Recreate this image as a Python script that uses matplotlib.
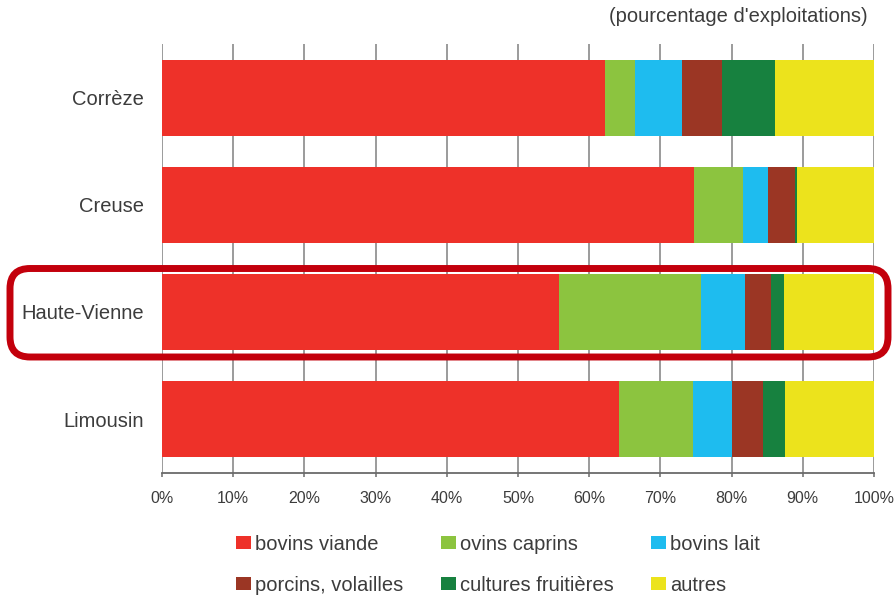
import matplotlib.pyplot as plt
from matplotlib.patches import FancyBboxPatch
from matplotlib.transforms import IdentityTransform

plt.rcParams['font.family'] = ['Liberation Sans', 'DejaVu Sans']

# part of farms by main activity, per département (%)
regions = ["Corrèze", "Creuse", "Haute-Vienne", "Limousin"]
bovins_viande = [62.2, 74.7, 55.8, 64.2]
ovins_caprins = [4.2, 6.9, 19.9, 10.4]
bovins_lait = [6.7, 3.5, 6.2, 5.4]
porcins_volailles = [5.5, 3.8, 3.7, 4.4]
cultures_fruitieres = [7.5, 0.3, 1.7, 3.1]
autres = [13.9, 10.8, 12.7, 12.5]

series = [
    ("bovins viande", bovins_viande, "#ee3129"),
    ("ovins caprins", ovins_caprins, "#8cc43f"),
    ("bovins lait", bovins_lait, "#1ebcef"),
    ("porcins, volailles", porcins_volailles, "#9b3624"),
    ("cultures fruitières", cultures_fruitieres, "#17813f"),
    ("autres", autres, "#ece31c"),
]

text_col = "#3c3c3c"

fig = plt.figure(figsize=(8.96, 5.97), dpi=100)
ax = fig.add_axes([0.1808, 0.2082, 0.7946, 0.7181])

ypos = list(range(len(regions)))
left = [0.0] * len(regions)
handles = []
for name, vals, col in series:
    b = ax.barh(ypos, vals, left=left, height=0.71, color=col, label=name, zorder=2)
    handles.append(b)
    left = [l + v for l, v in zip(left, vals)]

ax.set_xlim(0, 100)
ax.set_ylim(3.5, -0.5)
ax.set_xticks(range(0, 101, 10))
ax.set_xticklabels([f"{v}%" for v in range(0, 101, 10)])
ax.set_yticks(ypos)
ax.set_yticklabels(regions)
ax.xaxis.grid(True, color="#8a8a8a", linewidth=1.2, zorder=0)
ax.set_axisbelow(True)

for s in ["top", "right", "left"]:
    ax.spines[s].set_visible(False)
ax.spines["bottom"].set_color("#6a6a6a")
ax.spines["bottom"].set_linewidth(1.3)
ax.tick_params(axis="x", length=3, width=1.1, color="#6a6a6a", pad=10,
               labelsize=11.5, labelcolor=text_col)
ax.tick_params(axis="y", length=0, pad=13, labelsize=14.5, labelcolor=text_col)

fig.text(868 / 896, 1 - 16 / 597, "(pourcentage d'exploitations)", ha="right",
         va="center", fontsize=14.5, color=text_col)

# legend: row order across three columns
order = [0, 3, 1, 4, 2, 5]
leg = fig.legend([handles[i] for i in order], [series[i][0] for i in order],
                 loc="center", bbox_to_anchor=(0.556, 0.054), ncol=3,
                 frameon=False, fontsize=14.5, handlelength=0.75, handleheight=0.6,
                 handletextpad=0.2, columnspacing=1.85, labelspacing=1.1,
                 borderpad=0)
for t in leg.get_texts():
    t.set_color(text_col)

# highlight box around Haute-Vienne
box = FancyBboxPatch((10, 240), 878, 88.5, boxstyle="round,pad=0,rounding_size=20",
                     fill=False, edgecolor="#c3000c", linewidth=5,
                     transform=IdentityTransform())
fig.add_artist(box)

fig.savefig("out.png", dpi=100)
